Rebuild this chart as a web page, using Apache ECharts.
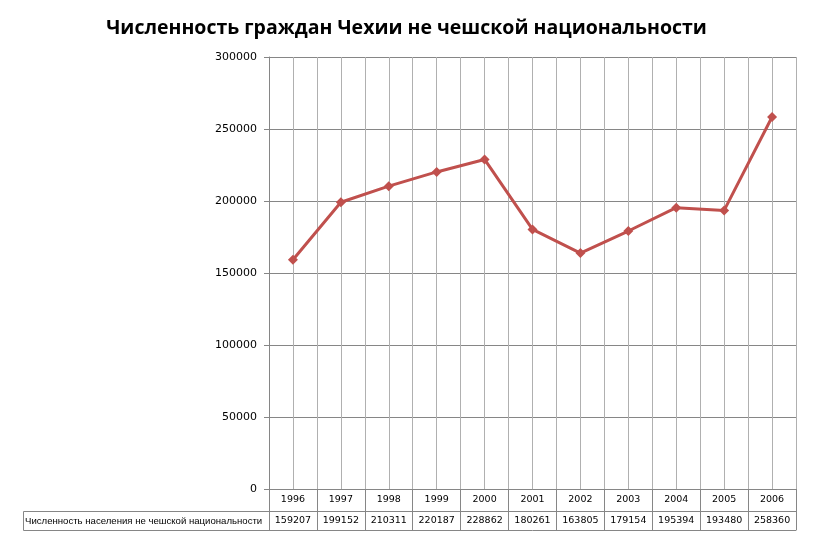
<!DOCTYPE html>
<html>
<head>
<meta charset="utf-8">
<script src="https://cdn.jsdelivr.net/npm/echarts@6/dist/echarts.min.js"></script>
<style>
  html,body{margin:0;padding:0;background:#fff;}
  #chart{width:813px;height:542px;}
</style>
</head>
<body>
<div id="chart"></div>
<script>
// Численность граждан Чехии не чешской национальности
const YEARS = ['1996','1997','1998','1999','2000','2001','2002','2003','2004','2005','2006'];
const VALUES = [159207,199152,210311,220187,228862,180261,163805,179154,195394,193480,258360];
const SERIES_NAME = 'Численность населения не чешской национальности';
const TITLE = 'Численность граждан Чехии не чешской национальности';
const Y_MIN = 0, Y_MAX = 300000, Y_STEP = 50000;

const FONT = '"DejaVu Sans", Verdana, sans-serif';
const GRID = {left:269, right:17, top:57, bottom:53};
const ROW = 22;      // data table row height
const LINE_C = '#868686', GRID_V = '#b0b0b0', RED = '#C0504D';

const chart = echarts.init(document.getElementById('chart'), null, {renderer:'canvas'});
const rowTop = 542 - GRID.bottom + ROW;   // top of values row
chart.setOption({
  animation:false,
  textStyle:{fontFamily:FONT},
  title:{text:TITLE, left:'center', top:13,
    textStyle:{fontFamily:'"Open Sans", sans-serif', fontWeight:'bold', fontSize:19.5, color:'#000'}},
  grid:{...GRID, containLabel:false},
  xAxis:[
    {type:'category', data:YEARS, boundaryGap:true, position:'bottom',
     axisLine:{lineStyle:{color:LINE_C}}, axisTick:{show:true, length:ROW*2-3, interval:0, lineStyle:{color:LINE_C}},
     axisLabel:{color:'#000', fontSize:9.5, margin:6, interval:0}, splitLine:{show:false}},
    {type:'category', data:VALUES.map(String), boundaryGap:true, position:'bottom', offset:ROW,
     axisLine:{lineStyle:{color:LINE_C}}, axisTick:{show:false},
     axisLabel:{color:'#000', fontSize:9.5, margin:5, interval:0}, splitLine:{show:false}},
    {type:'category', data:YEARS, position:'bottom', offset:ROW*2-3,
     axisLine:{lineStyle:{color:LINE_C}}, axisTick:{show:false}, axisLabel:{show:false}},
    {type:'value', min:0, max:YEARS.length*2, interval:1, position:'top',
     axisLine:{show:false}, axisTick:{show:false}, axisLabel:{show:false},
     splitLine:{show:true, lineStyle:{color:GRID_V, width:1}}}
  ],
  yAxis:{type:'value', min:Y_MIN, max:Y_MAX, interval:Y_STEP,
    axisLine:{show:true, lineStyle:{color:LINE_C}},
    axisTick:{show:true, length:5, lineStyle:{color:LINE_C}},
    axisLabel:{color:'#000', fontSize:11, margin:12, formatter:v=>String(v)},
    splitLine:{lineStyle:{color:LINE_C, width:1}}},
  graphic:[
    {type:'rect', shape:{x:23.5, y:rowTop+0.5, width:GRID.left-23, height:ROW-3},
     style:{fill:'none', stroke:LINE_C, lineWidth:1}},
    {type:'text', x:25, y:rowTop+ROW/2-1,
     style:{text:SERIES_NAME, fontFamily:'"Liberation Sans", Arial, sans-serif', fontSize:9.6,
            fill:'#000', verticalAlign:'middle'}}
  ],
  series:[{
    name:SERIES_NAME, type:'line', xAxisIndex:0, data:VALUES,
    symbol:'diamond', symbolSize:10, showSymbol:true,
    lineStyle:{color:RED, width:3}, itemStyle:{color:RED}
  }]
});
</script>
</body>
</html>
